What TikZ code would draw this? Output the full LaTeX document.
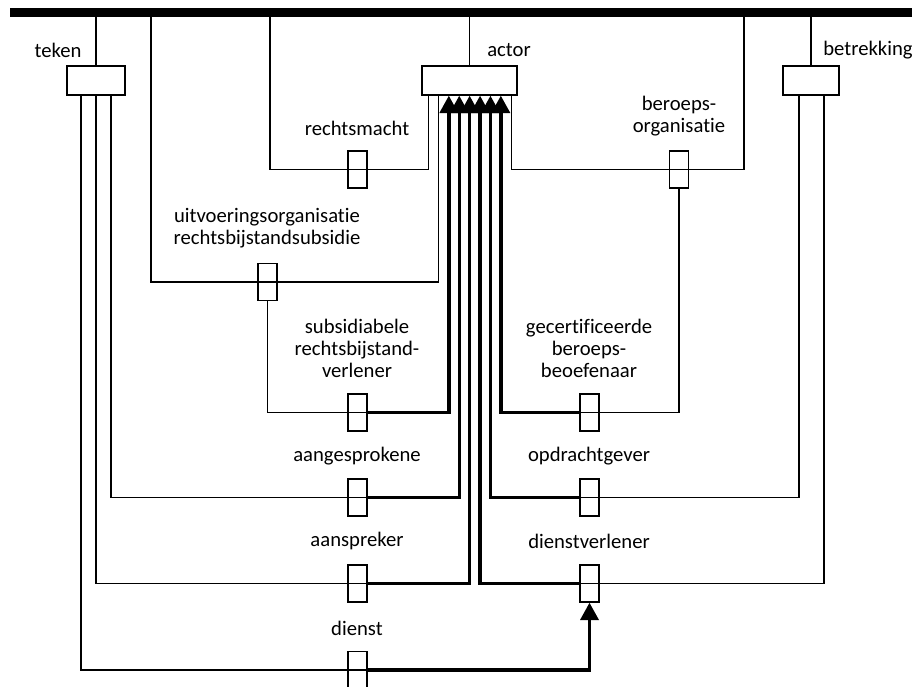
\documentclass[tikz,border=0pt]{standalone}
\usepackage{fontspec}
\setmainfont{Carlito}[Ligatures=NoCommon]
\usetikzlibrary{arrows.meta}
\begin{document}
\begin{tikzpicture}[x=0.75pt,y=-0.75pt,
  thinln/.style={line width=1pt},
  thickln/.style={line width=2.6pt, line join=miter},
  ent/.style={draw, line width=1pt, inner sep=0pt, minimum height=21.75pt},
  role/.style={draw, line width=1pt, inner sep=0pt, minimum width=14.25pt, minimum height=27.75pt},
  lbl/.style={font=\fontsize{15.5}{16.5}\selectfont, align=center, inner sep=0pt},
  arr/.style={-{Triangle[length=13pt,width=13.5pt]}},
]
\useasboundingbox (0,0) rectangle (912,686);
% top bar
\node[fill=black, inner sep=0pt, minimum width=676.5pt, minimum height=6.75pt] (bar) at (461,12.5) {};
% entity boxes
\node[ent, minimum width=43.5pt] (teken) at (96,80.5) {};
\node[ent, minimum width=71.25pt] (actor) at (469.5,80.5) {};
\node[ent, minimum width=42pt] (betr) at (811,80.5) {};
\node[lbl] (lteken) at (58,50) {teken};
\node[lbl] (lactor) at (509,50) {actor};
\node[lbl] (lbetr) at (868,50) {betrekking};
% role boxes
\node[role] (rm) at (357.5,169.5) {};
\node[role] (bo) at (679,169.5) {};
\node[role] (uo) at (267.5,282) {};
\node[role] (sub) at (357.5,412.5) {};
\node[role] (gec) at (589.5,412.5) {};
\node[role] (aang) at (357.5,497.5) {};
\node[role] (opdr) at (589.5,497.5) {};
\node[role] (aansp) at (357.5,583.5) {};
\node[role] (dv) at (589.5,583.5) {};
\node[role] (dienst) at (357.5,670) {};
\foreach \r in {rm,bo,uo,sub,gec,aang,opdr,aansp,dv,dienst}
  \draw[thinln] (\r.west) -- (\r.east);
% attachment points
\path (actor.south west) ++(7,0) coordinate (ta) ++(10,0) coordinate (tb)
  ++(10.5,0) coordinate (s1) ++(10.4,0) coordinate (s2) ++(10.4,0) coordinate (s3)
  ++(10.4,0) coordinate (s4) ++(10.4,0) coordinate (s5) ++(10.4,0) coordinate (s6)
  ++(10.5,0) coordinate (tc);
\path (teken.south) ++(-15,0) coordinate (k1) ++(15,0) coordinate (k2) ++(15,0) coordinate (k3);
\path (betr.south) ++(-12,0) coordinate (b1) ++(25,0) coordinate (b2);
\coordinate (rmL) at (270,169.5);
\coordinate (uoL) at (151,282);
\coordinate (boR) at (744,169.5);
% thin connectors
\draw[thinln] (bar.south -| rmL) -- (rmL) -- (rm.west);
\draw[thinln] (rm.east) -| (ta);
\draw[thinln] (bar.south -| uoL) -- (uoL) -- (uo.west);
\draw[thinln] (uo.east) -| (tb);
\draw[thinln] (uo.south) |- (sub.west);
\draw[thinln] (bar.south -| boR) -- (boR) -- (bo.east);
\draw[thinln] (bo.west) -| (tc);
\draw[thinln] (bo.south) |- (gec.east);
\draw[thinln] (bar.south -| teken.north) -- (teken.north);
\draw[thinln] (bar.south -| actor.north) -- (actor.north);
\draw[thinln] (bar.south -| betr.north) -- (betr.north);
\draw[thinln] (k1) |- (dienst.west);
\draw[thinln] (k2) |- (aansp.west);
\draw[thinln] (k3) |- (aang.west);
\draw[thinln] (b1) |- (opdr.east);
\draw[thinln] (b2) |- (dv.east);
% thick connectors
\draw[thickln,arr] (sub.east) -| (s1);
\draw[thickln,arr] (aang.east) -| (s2);
\draw[thickln,arr] (aansp.east) -| (s3);
\draw[thickln,arr] (dv.west) -| (s4);
\draw[thickln,arr] (opdr.west) -| (s5);
\draw[thickln,arr] (gec.west) -| (s6);
\draw[thickln,arr] (dienst.east) -| (dv.south);
% labels
\node[lbl] (lrm) at (357,128) {rechtsmacht};
\node[lbl] (lbo) at (679,116.5) {beroeps-\\organisatie};
\node[lbl] (luo) at (267,228.5) {uitvoeringsorganisatie\\rechtsbijstandsubsidie};
\node[lbl] (lsub) at (357,348) {subsidiabele\\rechtsbijstand-\\verlener};
\node[lbl] (lgec) at (589,348) {gecertificeerde\\beroeps-\\beoefenaar};
\node[lbl] (laang) at (357,456) {aangesprokene};
\node[lbl] (lopdr) at (589,456) {opdrachtgever};
\node[lbl] (laansp) at (357,541) {aanspreker};
\node[lbl] (ldv) at (589,541) {dienstverlener};
\node[lbl] (ldienst) at (357,628) {dienst};
\end{tikzpicture}
\end{document}
